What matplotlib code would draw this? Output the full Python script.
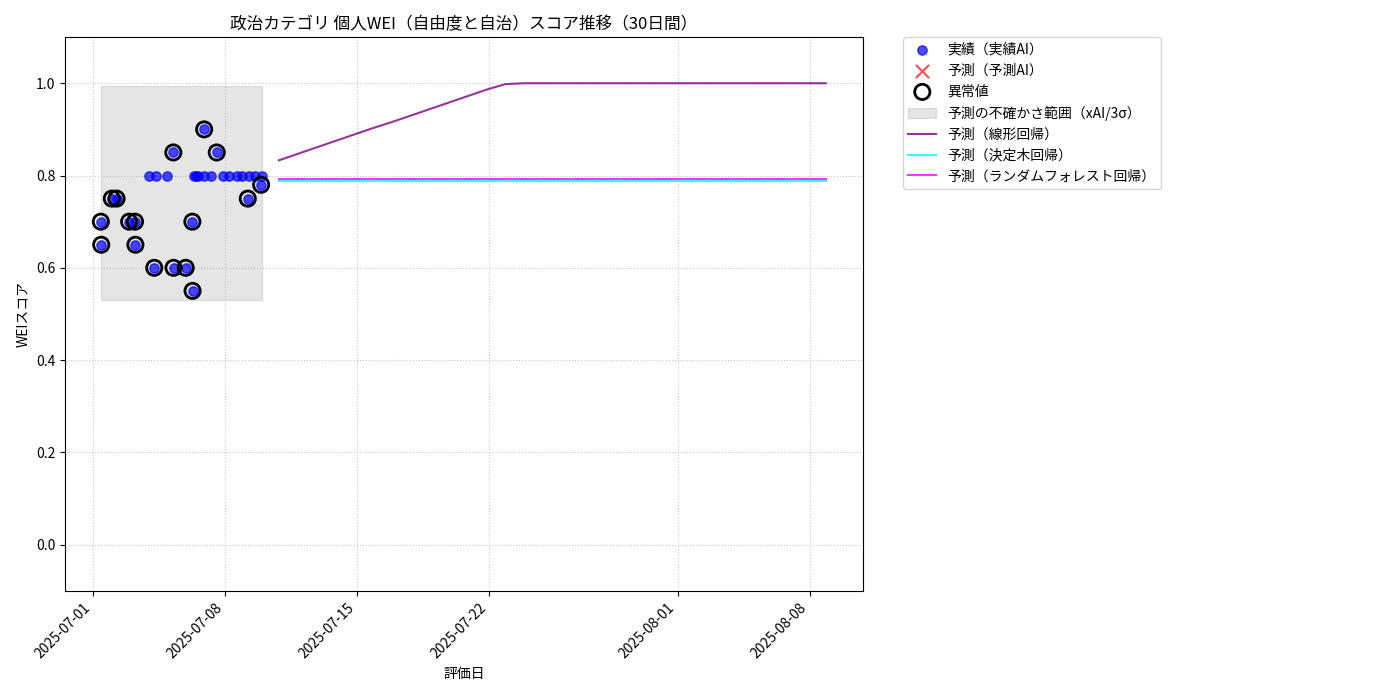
import pandas as pd
import matplotlib
matplotlib.use("Agg")
import matplotlib.pyplot as plt

plt.rcParams['font.family'] = ['Noto Sans CJK JP', 'DejaVu Sans']

# --- 実績データ ---
actual_dates = [
    "2025-07-01 10:00", "2025-07-01 10:30", "2025-07-02 00:00", "2025-07-02 06:00",
    "2025-07-02 22:00", "2025-07-03 05:30", "2025-07-03 06:00", "2025-07-03 23:15",
    "2025-07-04 06:00", "2025-07-04 08:00", "2025-07-04 22:30", "2025-07-05 06:15",
    "2025-07-05 06:30", "2025-07-05 22:00", "2025-07-06 06:30", "2025-07-06 06:45",
    "2025-07-06 09:00", "2025-07-06 11:00", "2025-07-06 14:00", "2025-07-06 21:30",
    "2025-07-06 21:45", "2025-07-07 06:15", "2025-07-07 13:30", "2025-07-07 22:00",
    "2025-07-08 05:00", "2025-07-08 15:00", "2025-07-08 22:00", "2025-07-09 05:00",
    "2025-07-09 06:30", "2025-07-09 14:00", "2025-07-09 22:00", "2025-07-09 22:45",
]
actual_scores = [
    0.70, 0.65, 0.75, 0.75,
    0.70, 0.70, 0.65, 0.80,
    0.60, 0.80, 0.80, 0.85,
    0.60, 0.60, 0.70, 0.55,
    0.80, 0.80, 0.80, 0.90,
    0.80, 0.80, 0.85, 0.80,
    0.80, 0.80, 0.80, 0.75,
    0.80, 0.80, 0.78, 0.80,
]

# --- 異常値 ---
anomaly_dates = [
    "2025-07-01 10:00", "2025-07-01 10:30", "2025-07-02 00:00", "2025-07-02 06:00",
    "2025-07-02 22:00", "2025-07-03 05:30", "2025-07-03 06:00", "2025-07-04 06:00",
    "2025-07-05 06:15", "2025-07-05 06:30", "2025-07-05 22:00", "2025-07-06 06:30",
    "2025-07-06 06:45", "2025-07-06 21:30", "2025-07-07 13:30", "2025-07-09 05:00",
    "2025-07-09 22:00",
]
anomaly_scores = [
    0.70, 0.65, 0.75, 0.75,
    0.70, 0.70, 0.65, 0.60,
    0.85, 0.60, 0.60, 0.70,
    0.55, 0.90, 0.85, 0.75,
    0.78,
]

# 不確かさ範囲 (xAI / 3σ)
band_low = 0.531
band_high = 0.995

# --- 予測 (30日間) ---
forecast_start = "2025-07-10 20:40"
pred_linear = [
    0.833, 0.847, 0.861, 0.875, 0.889, 0.903, 0.916, 0.930, 0.944, 0.958,
    0.972, 0.986, 0.998, 1.000, 1.000, 1.000, 1.000, 1.000, 1.000, 1.000,
    1.000, 1.000, 1.000, 1.000, 1.000, 1.000, 1.000, 1.000, 1.000, 1.000,
]
pred_tree = [0.789] * 30
pred_forest = [0.7925] * 30

actual_dt = pd.to_datetime(actual_dates)
anomaly_dt = pd.to_datetime(anomaly_dates)
forecast_dt = pd.date_range(forecast_start, periods=len(pred_linear), freq="D")

fig = plt.figure(figsize=(14, 7), dpi=100)
ax = fig.add_axes([0.0464, 0.156, 0.57, 0.791])

ax.scatter(actual_dt, actual_scores, color="blue", alpha=0.7, s=45,
           label="実績（実績AI）", zorder=3)
ax.scatter([], [], color="red", marker="x", alpha=0.7, s=90, label="予測（予測AI）")
ax.scatter(anomaly_dt, anomaly_scores, facecolors="none", edgecolors="black",
           linewidths=2, s=120, label="異常値", zorder=4)
ax.fill_between([actual_dt.min(), actual_dt.max()], band_low, band_high,
                color="gray", alpha=0.2, label="予測の不確かさ範囲（xAI/3σ）")
ax.plot(forecast_dt, pred_linear, color="purple", alpha=0.8, linewidth=1.5,
        label="予測（線形回帰）")
ax.plot(forecast_dt, pred_tree, color="cyan", alpha=0.8, linewidth=1.5,
        label="予測（決定木回帰）")
ax.plot(forecast_dt, pred_forest, color="magenta", alpha=0.8, linewidth=1.5,
        label="予測（ランダムフォレスト回帰）")

ax.set_ylim(-0.1, 1.1)
ax.set_xlim(pd.Timestamp("2025-06-29 12:20"), pd.Timestamp("2025-08-10 20:00"))
ticks = pd.to_datetime(["2025-07-01", "2025-07-08", "2025-07-15",
                        "2025-07-22", "2025-08-01", "2025-08-08"])
ax.set_xticks(ticks)
ax.set_xticklabels([t.strftime("%Y-%m-%d") for t in ticks], rotation=45, ha="right")
ax.set_yticks([0.0, 0.2, 0.4, 0.6, 0.8, 1.0])
ax.grid(True, linestyle=":", alpha=0.7)

ax.set_title("政治カテゴリ 個人WEI（自由度と自治）スコア推移（30日間）", fontsize=12)
ax.set_xlabel("評価日")
ax.set_ylabel("WEIスコア")
ax.legend(loc="upper left", bbox_to_anchor=(1.05, 1), borderaxespad=0)

fig.savefig("out.png")
